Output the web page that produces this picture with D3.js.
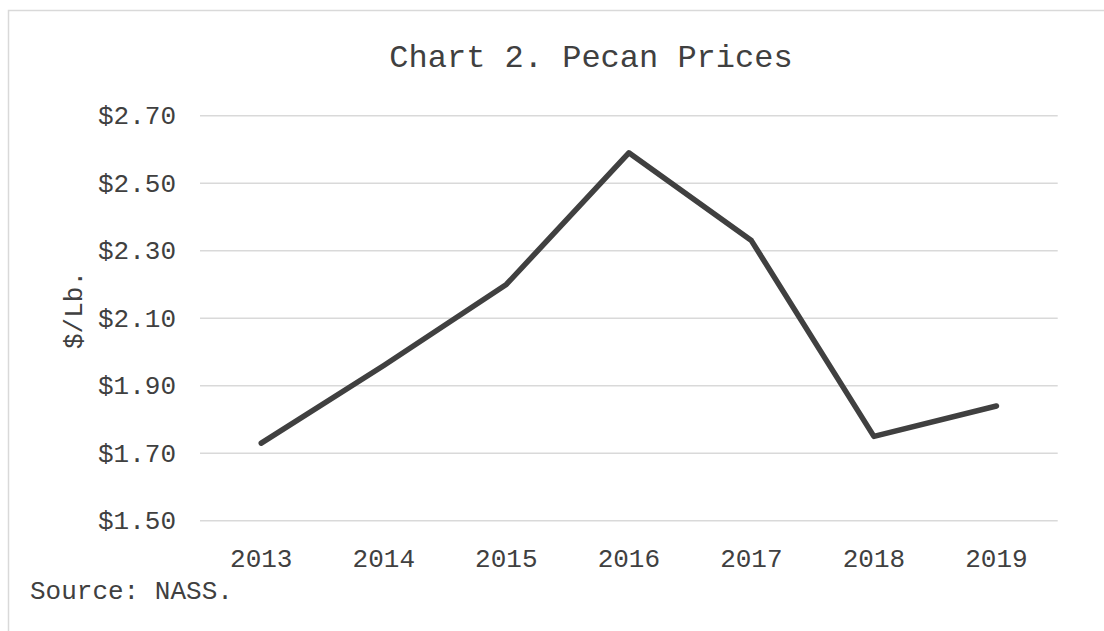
<!DOCTYPE html>
<html>
<head>
<meta charset="utf-8">
<script src="https://cdn.jsdelivr.net/npm/d3@7"></script>
<style>
  body { margin: 0; background: #fff; }
  text { font-family: "Courier New", "Liberation Mono", monospace; fill: #404040; }
</style>
</head>
<body>
<svg width="1104" height="631"></svg>
<script>
// values
var years = ["2013", "2014", "2015", "2016", "2017", "2018", "2019"];
var prices = [1.73, 1.96, 2.20, 2.59, 2.33, 1.75, 1.84];
var yTicks = [1.50, 1.70, 1.90, 2.10, 2.30, 2.50, 2.70];

var svg = d3.select("svg");

// chart area border (only top and left show in the frame)
svg.append("rect")
  .attr("x", 8.5).attr("y", 10.5)
  .attr("width", 1180).attr("height", 700)
  .attr("fill", "none")
  .attr("stroke", "#d9d9d9")
  .attr("stroke-width", 1.5);

var x = d3.scaleBand().domain(years).range([200, 1057.7]);
var y = d3.scaleLinear().domain([1.5, 2.7]).range([520.8, 115.7]);

// gridlines
svg.append("g")
  .selectAll("line")
  .data(yTicks)
  .enter()
  .append("line")
  .attr("x1", 200).attr("x2", 1057.7)
  .attr("y1", function(d) { return y(d); })
  .attr("y2", function(d) { return y(d); })
  .attr("stroke", "#d9d9d9")
  .attr("stroke-width", 1.5);

// Y tick labels
svg.append("g")
  .selectAll("text")
  .data(yTicks)
  .enter()
  .append("text")
  .attr("x", 176)
  .attr("y", function(d) { return y(d); })
  .attr("dy", "0.32em")
  .attr("text-anchor", "end")
  .style("font-size", "26px")
  .text(function(d) { return "$" + d3.format(".2f")(d); });

// X tick labels
svg.append("g")
  .selectAll("text")
  .data(years)
  .enter()
  .append("text")
  .attr("x", function(d) { return x(d) + x.bandwidth() / 2; })
  .attr("y", 567)
  .attr("text-anchor", "middle")
  .style("font-size", "26px")
  .text(function(d) { return d; });

// the line
var line = d3.line()
  .x(function(d, i) { return x(years[i]) + x.bandwidth() / 2; })
  .y(function(d) { return y(d); });

svg.append("path")
  .datum(prices)
  .attr("d", line)
  .attr("fill", "none")
  .attr("stroke", "#404040")
  .attr("stroke-width", 5.5)
  .attr("stroke-linejoin", "round")
  .attr("stroke-linecap", "round");

// Title
svg.append("text")
  .attr("x", 591)
  .attr("y", 67)
  .attr("text-anchor", "middle")
  .style("font-size", "32px")
  .text("Chart 2. Pecan Prices");

// Y label
svg.append("text")
  .attr("transform", "translate(82,310) rotate(-90)")
  .attr("text-anchor", "middle")
  .style("font-size", "26px")
  .text("$/Lb.");

// Source
svg.append("text")
  .attr("x", 30)
  .attr("y", 599)
  .style("font-size", "26px")
  .text("Source: NASS.");
</script>
</body>
</html>
